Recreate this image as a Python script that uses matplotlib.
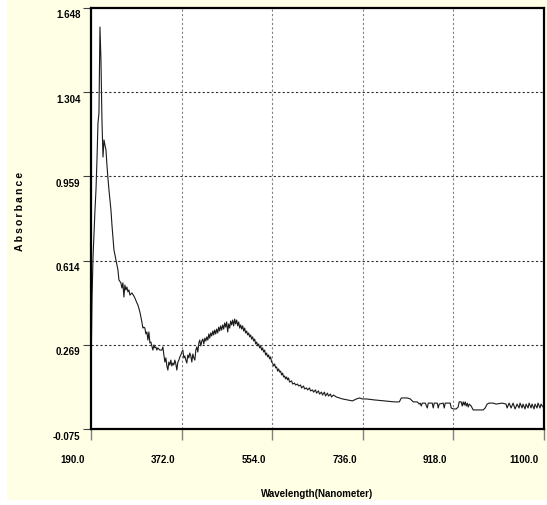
import matplotlib
matplotlib.use("Agg")
import matplotlib.pyplot as plt
from matplotlib.patches import Rectangle
from matplotlib.transforms import ScaledTranslation

plt.rcParams['font.family'] = ['Liberation Sans', 'DejaVu Sans']

# spectrum
wavelength = [
    190.0, 192.0, 194.1, 198.0, 200.0, 202.0, 204.0, 206.0, 208.0, 210.0,
    212.0, 214.1, 216.1, 218.0, 220.1, 222.0, 224.0, 226.1, 230.1, 232.1,
    236.1, 240.1, 244.1, 246.1, 250.1, 252.1, 254.1, 256.1, 258.1, 260.1,
    262.1, 264.2, 266.2, 268.2, 272.2, 276.2, 278.2, 282.2, 284.2, 288.2,
    290.2, 292.2, 294.2, 296.2, 298.2, 300.2, 302.3, 304.3, 306.3, 308.3,
    310.3, 312.3, 314.3, 316.3, 318.3, 320.3, 322.3, 324.3, 328.3, 332.3,
    334.4, 336.4, 338.4, 340.4, 342.4, 344.4, 346.4, 348.4, 350.4, 352.4,
    354.4, 356.4, 358.4, 360.4, 362.5, 364.5, 366.5, 368.5, 370.5, 372.5,
    374.5, 376.5, 378.5, 380.5, 382.5, 384.5, 386.5, 388.5, 390.5, 392.5,
    394.6, 396.6, 398.6, 400.6, 402.6, 404.6, 406.6, 408.5, 410.6, 412.6,
    414.6, 416.6, 418.7, 420.7, 422.7, 424.7, 426.7, 428.5, 430.5, 432.5,
    434.7, 436.5, 438.5, 440.5, 442.5, 444.5, 446.5, 448.5, 450.5, 452.5,
    454.6, 456.6, 458.6, 460.6, 462.6, 464.6, 466.6, 468.6, 470.6, 472.6,
    474.6, 476.6, 478.6, 480.6, 482.6, 484.7, 486.7, 488.7, 490.7, 492.7,
    494.7, 496.7, 498.7, 500.7, 502.7, 504.7, 506.7, 508.7, 510.7, 512.7,
    514.7, 516.7, 518.8, 520.8, 522.8, 524.8, 526.8, 528.8, 530.8, 532.8,
    534.8, 536.8, 538.8, 540.8, 542.8, 544.8, 546.8, 548.8, 550.8, 552.8,
    554.8, 556.8, 558.9, 560.9, 562.9, 564.9, 566.9, 568.9, 570.9, 572.9,
    574.9, 576.9, 578.9, 580.9, 582.9, 584.9, 586.9, 588.9, 592.9, 595.0,
    598.9, 600.9, 604.9, 607.0, 611.0, 613.0, 617.0, 619.0, 623.0, 625.0,
    629.0, 631.0, 635.0, 637.0, 641.0, 643.0, 647.0, 649.0, 653.0, 655.0,
    659.0, 661.0, 665.0, 667.0, 671.0, 673.0, 677.0, 683.0, 689.1, 695.1,
    705.1, 715.2, 723.2, 729.2, 735.2, 743.2, 759.3, 779.3, 799.3, 809.4,
    813.4, 825.4, 831.4, 837.4, 845.4, 849.4, 851.4, 853.5, 855.5, 861.5,
    865.5, 867.5, 875.5, 877.5, 879.5, 885.5, 887.5, 889.5, 897.5, 899.6,
    901.6, 911.6, 913.6, 917.6, 923.6, 927.6, 929.6, 933.6, 935.7, 937.7,
    939.7, 941.7, 943.7, 945.7, 947.7, 949.7, 953.7, 957.7, 969.8, 977.8,
    981.8, 985.8, 989.8, 997.8, 1003.8, 1015.8, 1023.8, 1025.9, 1029.9, 1033.9,
    1037.9, 1041.9, 1045.9, 1049.9, 1051.9, 1055.9, 1057.9, 1061.9, 1064.0, 1068.0,
    1070.0, 1074.0, 1076.0, 1080.0, 1082.0, 1086.0, 1088.0, 1092.0, 1094.0, 1098.0,
    1100.0,
]
absorbance = [
    0.126, 0.453, 0.629, 0.821, 0.903, 1.026, 1.177, 1.218, 1.570, 1.435,
    1.190, 1.038, 1.108, 1.087, 1.067, 1.006, 0.952, 0.903, 0.821, 0.760,
    0.658, 0.617, 0.576, 0.535, 0.523, 0.502, 0.523, 0.465, 0.514, 0.494,
    0.506, 0.486, 0.494, 0.473, 0.482, 0.469, 0.461, 0.441, 0.433, 0.404,
    0.383, 0.363, 0.338, 0.342, 0.338, 0.314, 0.322, 0.289, 0.322, 0.277,
    0.281, 0.265, 0.248, 0.269, 0.257, 0.261, 0.248, 0.257, 0.248, 0.248,
    0.261, 0.228, 0.199, 0.216, 0.183, 0.166, 0.199, 0.187, 0.207, 0.183,
    0.195, 0.187, 0.207, 0.191, 0.166, 0.199, 0.207, 0.220, 0.228, 0.240,
    0.248, 0.216, 0.224, 0.207, 0.195, 0.228, 0.216, 0.236, 0.224, 0.199,
    0.232, 0.216, 0.207, 0.248, 0.261, 0.240, 0.277, 0.289, 0.265, 0.285,
    0.293, 0.273, 0.297, 0.285, 0.302, 0.289, 0.314, 0.297, 0.318, 0.306,
    0.326, 0.310, 0.330, 0.314, 0.334, 0.318, 0.342, 0.326, 0.347, 0.330,
    0.351, 0.334, 0.359, 0.342, 0.363, 0.322, 0.355, 0.338, 0.367, 0.351,
    0.371, 0.347, 0.375, 0.355, 0.371, 0.347, 0.363, 0.338, 0.351, 0.334,
    0.347, 0.326, 0.338, 0.318, 0.326, 0.310, 0.318, 0.302, 0.310, 0.293,
    0.302, 0.285, 0.293, 0.273, 0.281, 0.265, 0.273, 0.257, 0.265, 0.248,
    0.257, 0.240, 0.248, 0.228, 0.236, 0.220, 0.228, 0.212, 0.220, 0.199,
    0.195, 0.183, 0.191, 0.175, 0.179, 0.162, 0.171, 0.158, 0.162, 0.146,
    0.154, 0.138, 0.142, 0.130, 0.138, 0.126, 0.134, 0.117, 0.122, 0.109,
    0.113, 0.105, 0.109, 0.101, 0.105, 0.093, 0.101, 0.089, 0.093, 0.085,
    0.093, 0.081, 0.085, 0.076, 0.085, 0.072, 0.081, 0.068, 0.076, 0.064,
    0.076, 0.060, 0.072, 0.060, 0.068, 0.056, 0.064, 0.056, 0.052, 0.048,
    0.044, 0.040, 0.048, 0.052, 0.048, 0.048, 0.044, 0.040, 0.036, 0.036,
    0.052, 0.052, 0.048, 0.036, 0.036, 0.027, 0.031, 0.019, 0.031, 0.031,
    0.011, 0.031, 0.031, 0.011, 0.031, 0.031, 0.011, 0.027, 0.031, 0.011,
    0.031, 0.031, 0.011, 0.007, 0.007, 0.015, 0.036, 0.036, 0.019, 0.036,
    0.023, 0.036, 0.019, 0.031, 0.015, 0.027, 0.019, 0.003, 0.003, 0.003,
    0.011, 0.027, 0.031, 0.031, 0.027, 0.031, 0.027, 0.011, 0.031, 0.011,
    0.031, 0.007, 0.027, 0.011, 0.031, 0.011, 0.027, 0.007, 0.027, 0.011,
    0.031, 0.011, 0.027, 0.007, 0.027, 0.011, 0.031, 0.011, 0.027, 0.015,
    0.023,
]

x_ticks = [190.0, 372.0, 554.0, 736.0, 918.0, 1100.0]
y_ticks = [-0.075, 0.269, 0.614, 0.959, 1.304, 1.648]

cream = '#FFFFE6'

fig = plt.figure(figsize=(5.47, 5.05), dpi=100, facecolor=cream)
# thin white border on the left and bottom
fig.patches.append(Rectangle((0, 0), 7 / 547, 1, transform=fig.transFigure,
                             facecolor='white', edgecolor='none', zorder=-1))
fig.patches.append(Rectangle((0, 0), 1, 5 / 505, transform=fig.transFigure,
                             facecolor='white', edgecolor='none', zorder=-1))

ax = fig.add_axes([91 / 547, 76 / 505, 453 / 547, 421 / 505])
ax.set_facecolor('white')

ax.plot(wavelength, absorbance, color='#1a1a1a', lw=0.8)

ax.set_xlim(190, 1100)
ax.set_ylim(-0.075, 1.648)

ax.set_xticks(x_ticks)
ax.set_xticklabels(['%.1f' % v for v in x_ticks], fontsize=7, fontweight='bold')
ax.set_yticks(y_ticks)
ax.set_yticklabels(['%.3f' % v for v in y_ticks], fontsize=7, fontweight='bold',
                   va='top')

ax.tick_params(axis='x', direction='out', length=8, width=1, color='#808080', pad=11)
ax.tick_params(axis='y', direction='out', length=6, width=0.8, color='#404040', pad=1.5)

# x labels sit a little left of their ticks, y labels a little below
shift_x = ScaledTranslation(-0.06, 0, fig.dpi_scale_trans)
for lab in ax.get_xticklabels():
    lab.set_ha('right')
    lab.set_transform(lab.get_transform() + shift_x)
shift_y = ScaledTranslation(0, -0.025, fig.dpi_scale_trans)
for lab in ax.get_yticklabels():
    lab.set_transform(lab.get_transform() + shift_y)

for v in x_ticks[1:-1]:
    ax.axvline(v, color='#808080', lw=0.8, ls=(0, (2, 2)))
for v in y_ticks[1:-1]:
    ax.axhline(v, color='#303030', lw=0.8, ls=(0, (2, 2)))

for s in ax.spines.values():
    s.set_color('black')
    s.set_linewidth(1.6)

fig.text(317 / 547, 1 - 494 / 505, 'Wavelength(Nanometer)', fontsize=7,
         fontweight='bold', ha='center', va='center')
fig.text(20 / 547, 1 - 211 / 505, '\u2009'.join('Absorbance'), rotation=90,
         fontsize=7.5, fontweight='bold', ha='center', va='center')

fig.savefig('out.png', dpi=100, facecolor=fig.get_facecolor())
